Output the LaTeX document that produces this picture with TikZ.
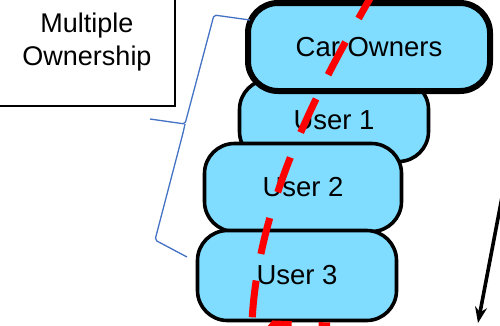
\documentclass[tikz,border=0pt]{standalone}
\usepackage{fontspec}
\setmainfont{Liberation Sans}
\usetikzlibrary{arrows.meta}
\definecolor{boxblue}{RGB}{128,221,255}
\definecolor{bracecol}{RGB}{68,114,196}
\definecolor{redline}{RGB}{255,0,0}
\tikzset{
  ubox/.style={draw=black, fill=boxblue, line width=3.6pt, rounded corners=30pt,
    inner sep=0pt, font=\fontsize{27.5}{30}\selectfont},
  ownerbox/.style={ubox, line width=6pt},
  textframe/.style={draw=black, line width=2pt, fill=white, inner sep=0pt},
  labeltext/.style={align=center, inner sep=0pt, font=\fontsize{27}{33}\selectfont},
  reddash/.style={draw=redline, line width=7pt, dash pattern=on 37pt off 27pt, dash phase=10pt},
  bracket/.style={draw=bracecol, line width=1.3pt, rounded corners=2pt},
  bigarrow/.style={draw=black, line width=3.6pt, -{Stealth[length=16pt,width=12pt]}}
}
\begin{document}
\begin{tikzpicture}[x=1pt,y=-1pt]
\useasboundingbox (0,0) rectangle (500,325);
% text frame
\node[textframe, minimum width=185pt, minimum height=116pt] (ownbox) at (82.5,48) {};
\node[labeltext] (owntext) at (87,42) {Multiple\\Ownership};
% stacked boxes
\node[ubox, minimum width=189pt, minimum height=82pt] (u1) at (334,120.5) {User 1};
\node[ubox, minimum width=197pt, minimum height=88pt] (u2) at (303,187.5) {User 2};
\node[ubox, minimum width=199pt, minimum height=90pt] (u3) at (297,275.5) {User 3};
\node[ownerbox, minimum width=242pt, minimum height=88pt] (car) at (369,47) {Car Owners};
% red dashed line
\coordinate (r0) at (372,-5);
\coordinate (r1) at (252,322);
\coordinate (r2) at (252,336);
\coordinate (r3) at (264,336);
\coordinate (r4) at (274,324);
\coordinate (r5) at (330,326);
\path[reddash] (r0) .. controls (320,85) and (258,200) .. (r1) -- (r2) -- (r3) -- (r4) -- (r5);
% bracket
\coordinate (b0) at (250,20);
\coordinate (b1) at (214,15);
\coordinate (b2) at (185,124);
\coordinate (bt) at (150,119);
\coordinate (b3) at (183,133);
\coordinate (b4) at (155,240);
\coordinate (b5) at (187,257);
\path[bracket] (b0) -- (b1) -- (b2) -- (bt);
\path[bracket] (b2) -- (b3) -- (b4) -- (b5);
% arrow
\coordinate (a0) at (503,192);
\coordinate (a1) at (478,323);
\path[bigarrow] (a0) -- (a1);
\end{tikzpicture}
\end{document}
